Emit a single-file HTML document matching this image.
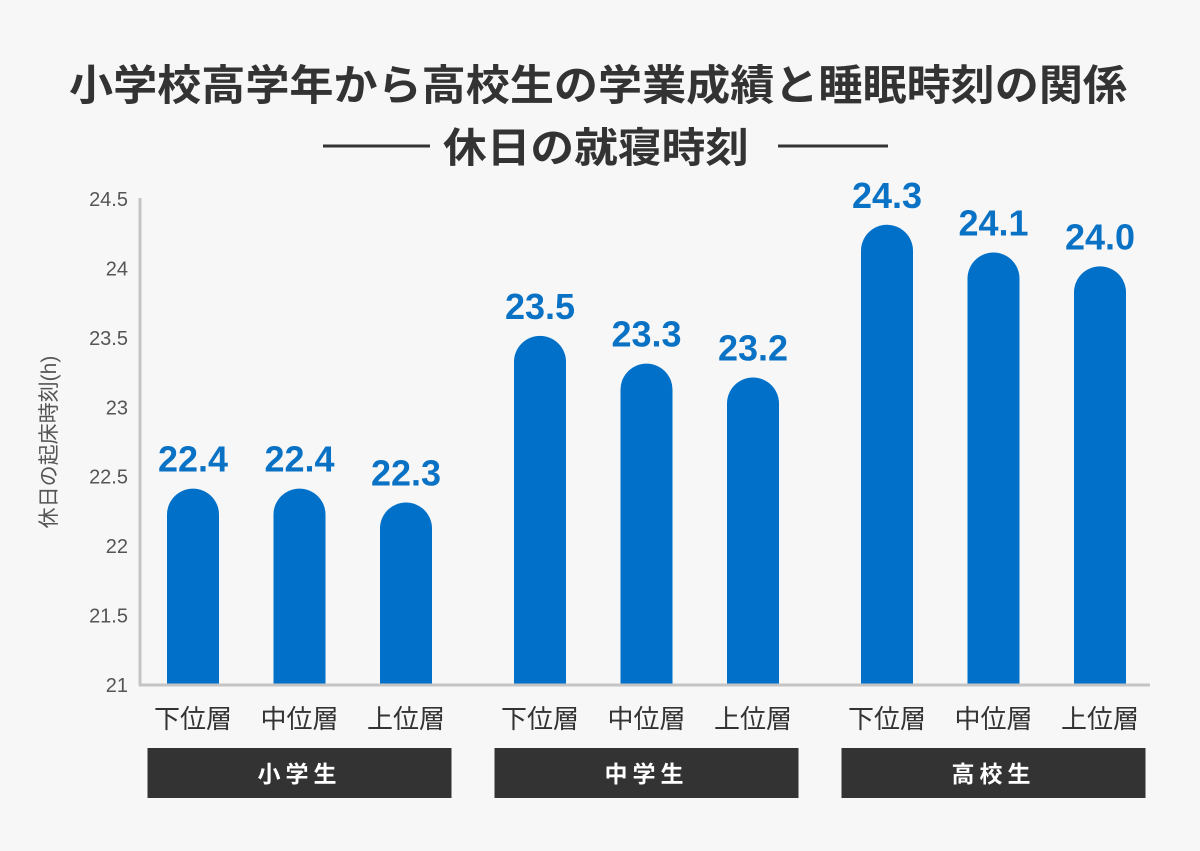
<!DOCTYPE html>
<html><head><meta charset="utf-8"><style>
body{margin:0;background:#f7f7f7;}
svg text{font-family:"Liberation Sans","Noto Sans CJK JP",sans-serif;}
</style></head><body>
<svg id="c" width="1200" height="846" xmlns="http://www.w3.org/2000/svg">
<rect width="1200" height="846" fill="#f7f7f7"/>
<text x="598" y="100" text-anchor="middle" font-size="42" font-weight="bold" fill="#333" textLength="1058" lengthAdjust="spacingAndGlyphs">小学校高学年から高校生の学業成績と睡眠時刻の関係</text>
<line x1="323" y1="146" x2="430" y2="146" stroke="#333" stroke-width="3"/>
<line x1="778" y1="146" x2="888" y2="146" stroke="#333" stroke-width="3"/>
<text x="596" y="162" text-anchor="middle" font-size="41" font-weight="bold" fill="#333" textLength="306" lengthAdjust="spacingAndGlyphs">休日の就寝時刻</text>
<text transform="translate(56,442) rotate(-90)" text-anchor="middle" font-size="21" fill="#555">休日の起床時刻(h)</text>
<g id="ticks"></g><g id="bars"></g>
<line x1="140" y1="198" x2="140" y2="686" stroke="#c4c4c4" stroke-width="3"/>
<line x1="139" y1="685" x2="1150" y2="685" stroke="#c4c4c4" stroke-width="3"/>
<g id="groups"></g>
</svg>
<script>
const groups=["小学生","中学生","高校生"];
const levels=["下位層","中位層","上位層"];
const values=[22.4,22.4,22.3,23.5,23.3,23.2,24.3,24.1,24.0];
const labels=["22.4","22.4","22.3","23.5","23.3","23.2","24.3","24.1","24.0"];
const ticks=[21,21.5,22,22.5,23,23.5,24,24.5];
const ns="http://www.w3.org/2000/svg";
const y=v=>685-(v-21)*(486/3.5);
const x=i=>193+Math.floor(i/3)*347+(i%3)*106.5;
function mk(t,a,p,txt){const e=document.createElementNS(ns,t);for(const k in a)e.setAttribute(k,a[k]);if(txt!=null)e.textContent=txt;document.getElementById(p).appendChild(e);return e;}
ticks.forEach(t=>{const e=mk("text",{x:128,y:y(t)+7,"text-anchor":"end","font-size":20,fill:"#555"},"ticks",String(t));

});
values.forEach((v,i)=>{const cx=x(i),w=52,r=26,top=y(v)-2;
const p=mk("path",{d:`M${cx-w/2},685 L${cx-w/2},${top+r} A${r},${r} 0 0 1 ${cx+w/2},${top+r} L${cx+w/2},685 Z`,fill:"#0070c9"},"bars");


const t=mk("text",{x:cx,y:top-17,"text-anchor":"middle","font-size":36,fill:"#0a72c4","font-weight":"bold"},"bars",labels[i]);


const c=mk("text",{x:cx,y:728,"text-anchor":"middle","font-size":26,fill:"#333"},"groups",levels[i%3]);

});
groups.forEach((g,j)=>{const cx=x(j*3+1);
const r=mk("rect",{x:cx-152,y:748,width:304,height:50,fill:"#333"},"groups");


const t=mk("text",{x:cx,y:782,"text-anchor":"middle","font-size":23,"font-weight":"bold",fill:"#fff","letter-spacing":"5"},"groups",g);

});
</script>
</body></html>
